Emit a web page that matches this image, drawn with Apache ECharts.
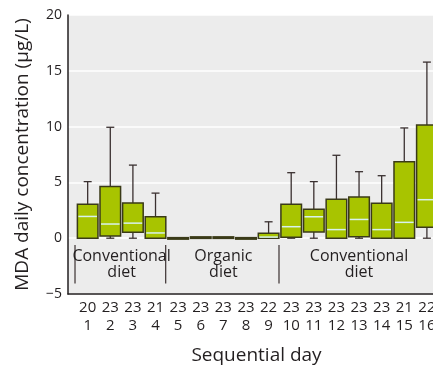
<!DOCTYPE html>
<html>
<head>
<meta charset="utf-8">
<script src="https://cdn.jsdelivr.net/npm/echarts@6/dist/echarts.min.js"></script>
<style>
  html, body { margin: 0; padding: 0; background: #fff; }
  #chart { width: 433px; height: 370px; }
</style>
</head>
<body>
<div id="chart"></div>
<script>
// sequential days and number of samples per day
const days = [1, 2, 3, 4, 5, 6, 7, 8, 9, 10, 11, 12, 13, 14, 15, 16];
const counts = [20, 23, 23, 21, 23, 23, 23, 23, 22, 23, 23, 23, 23, 23, 21, 22];
// box stats
const lows    = [0, 0, 0, 0, 0, 0, 0, 0, 0, 0, 0, 0, 0, 0, 0, 0];
const q1s     = [0, 0.2, 0.53, 0, 0, 0, 0, 0, 0, 0.09, 0.56, 0, 0.12, 0, 0, 0.97];
const medians = [1.95, 1.27, 1.35, 0.47, 0.02, 0.05, 0.05, 0.02, 0.1, 1.03, 1.92, 0.77, 1.68, 0.77, 1.42, 3.45];
const q3s     = [3.04, 4.63, 3.16, 1.92, 0.05, 0.12, 0.12, 0.05, 0.44, 3.04, 2.6, 3.48, 3.69, 3.13, 6.84, 10.15];
const highs   = [5.07, 9.94, 6.55, 4.04, 0.05, 0.2, 0.2, 0.05, 1.47, 5.87, 5.07, 7.43, 5.96, 5.6, 9.88, 15.78];
// diet periods
const groupNames = ['Conventional\ndiet', 'Organic\ndiet', 'Conventional\ndiet'];
const groupCenters = [2.5, 7, 13];
const dividers = [0.44, 4.45, 9.46];

const FONT = 'Open Sans';
const INK = '#231f20';

const chart = echarts.init(document.getElementById('chart'));

const boxData = days.map((d, i) => [d, lows[i], q1s[i], medians[i], q3s[i], highs[i]]);

chart.setOption({
  backgroundColor: '#ffffff',
  animation: false,
  grid: { left: 68, right: 0, top: 15, bottom: 72.5, show: true, backgroundColor: '#ececec', borderWidth: 0 },
  xAxis: {
    type: 'value', min: 0.13, max: 16.27,
    axisLine: { show: true, onZero: false, lineStyle: { color: INK, width: 1.5 } },
    axisTick: { show: false }, axisLabel: { show: false }, splitLine: { show: false },
    name: 'Sequential day', nameLocation: 'middle', nameGap: 52,
    nameTextStyle: { fontFamily: FONT, fontSize: 19, color: INK, padding: [0, 0, 0, 12] }
  },
  yAxis: {
    type: 'value', min: -5, max: 20, interval: 5,
    axisLine: { show: true, lineStyle: { color: INK, width: 1.5 } },
    axisTick: { show: false },
    axisLabel: {
      fontFamily: FONT, fontSize: 14, color: INK, margin: 6,
      formatter: v => v < 0 ? '\u2212' + Math.abs(v) : String(v)
    },
    splitLine: { show: true, lineStyle: { color: '#ffffff', width: 1.5 } },
    name: 'MDA daily concentration (\u03bcg/L)', nameLocation: 'middle', nameGap: 36,
    nameTextStyle: { fontFamily: FONT, fontSize: 19, color: INK }
  },
  series: [
    {
      type: 'custom',
      data: boxData,
      clip: false,
      renderItem: function (params, api) {
        const x = api.value(0);
        const lo = api.coord([x, api.value(1)]);
        const b = api.coord([x, api.value(2)]);
        const m = api.coord([x, api.value(3)]);
        const t = api.coord([x, api.value(4)]);
        const hi = api.coord([x, api.value(5)]);
        const w = api.size([0.91, 0])[0];
        const cap = 8;
        const cx = t[0];
        const wl = { stroke: '#3a3030', lineWidth: 1.3 };
        const kids = [];
        if (hi[1] < t[1] - 1) {
          kids.push({ type: 'line', shape: { x1: cx, y1: hi[1], x2: cx, y2: t[1] }, style: wl });
          kids.push({ type: 'line', shape: { x1: cx - cap / 2, y1: hi[1], x2: cx + cap / 2, y2: hi[1] }, style: wl });
        }
        if (lo[1] > b[1] + 1) {
          kids.push({ type: 'line', shape: { x1: cx, y1: b[1], x2: cx, y2: lo[1] }, style: wl });
          kids.push({ type: 'line', shape: { x1: cx - cap / 2, y1: lo[1], x2: cx + cap / 2, y2: lo[1] }, style: wl });
        }
        kids.push({
          type: 'rect',
          shape: { x: cx - w / 2, y: t[1], width: w, height: Math.max(b[1] - t[1], 1.5) },
          style: { fill: '#a8c400', stroke: '#3a3a18', lineWidth: 1.5 }
        });
        if (b[1] - t[1] > 4) {
          kids.push({ type: 'line', shape: { x1: cx - w / 2 + 1, y1: m[1], x2: cx + w / 2 - 1, y2: m[1] },
            style: { stroke: '#d8f2ee', lineWidth: 1.5 } });
        }
        return { type: 'group', children: kids };
      }
    },
    {
      // tick labels: sample count over day number
      type: 'custom',
      data: days.map((d, i) => [d, counts[i]]),
      clip: false, silent: true,
      renderItem: function (params, api) {
        const p = api.coord([api.value(0), -5]);
        return {
          type: 'group',
          children: [
            { type: 'text', x: p[0], y: p[1] + 13.5, style: { text: String(api.value(1)), align: 'center', verticalAlign: 'middle', fontFamily: FONT, fontSize: 15, fill: INK } },
            { type: 'text', x: p[0], y: p[1] + 32, style: { text: String(api.value(0)), align: 'center', verticalAlign: 'middle', fontFamily: FONT, fontSize: 15, fill: INK } }
          ]
        };
      }
    },
    {
      // diet period dividers
      type: 'custom',
      data: dividers.map(d => [d]),
      silent: true,
      renderItem: function (params, api) {
        const a = api.coord([api.value(0), -0.62]);
        const c = api.coord([api.value(0), -4.07]);
        return { type: 'line', shape: { x1: a[0], y1: a[1], x2: c[0], y2: c[1] }, style: { stroke: '#3a3030', lineWidth: 1.2 } };
      }
    },
    {
      // diet period labels
      type: 'custom',
      data: groupCenters.map((c, i) => [c, i]),
      silent: true,
      renderItem: function (params, api) {
        const p = api.coord([api.value(0), -2.35]);
        return {
          type: 'text', x: p[0], y: p[1],
          style: { text: groupNames[api.value(1)], align: 'center', verticalAlign: 'middle', lineHeight: 16.5,
            fontFamily: FONT, fontSize: 16, fill: INK }
        };
      }
    }
  ]
});
</script>
</body>
</html>
